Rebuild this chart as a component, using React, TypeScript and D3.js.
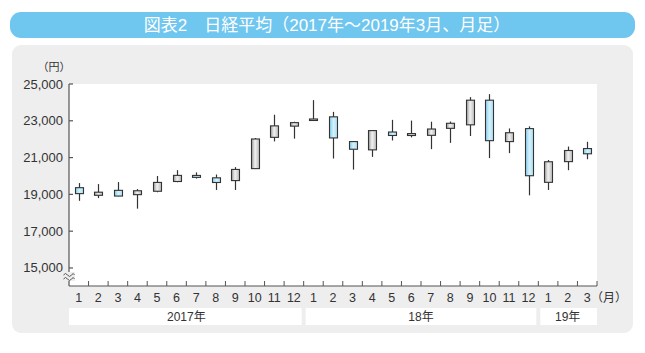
import React from "react";
import * as d3 from "d3";

const months = ["1","2","3","4","5","6","7","8","9","10","11","12","1","2","3","4","5","6","7","8","9","10","11","12","1","2","3"];
const opens  = [19364,18950,19220,18985,19170,19700,20030,19900,19750,20400,22100,22710,23050,23215,21870,21420,22390,22200,22210,22590,22780,24120,21870,22575,19655,20780,21490];
const highs  = [19615,19560,19668,19289,19999,20318,20195,20080,20481,22066,23330,22950,24124,23486,21880,22500,23050,23011,22950,22960,24286,24448,22583,22698,20870,21600,21860];
const lows   = [18650,18800,18900,18224,19115,19660,19860,19240,19240,20400,21880,22030,23000,20950,20347,21040,21930,22100,21460,21800,22172,20971,21243,18948,19241,20315,20911];
const closes = [19041,19119,18909,19197,19650,20033,19925,19646,20356,22011,22724,22900,23098,22068,21454,22467,22202,22305,22553,22865,24120,21920,22351,20014,20773,21385,21206];
const yearLabels = ["2017年", "18年", "19年"];
const yearCounts = [12, 12, 3];
const yTicks = [15000, 17000, 19000, 21000, 23000, 25000];

const FONT = "'Liberation Sans', 'Noto Sans CJK JP', sans-serif";

export default function App() {
  const left = 69, right = 597, top = 84, bottom = 286;
  const keys = months.map((_, i) => String(i));
  const x = d3.scaleBand().domain(keys).range([left, right]).padding(0);
  const y = d3.scaleLinear().domain([14020, 25000]).range([bottom, top]);
  const bw = 8;
  const fmt = d3.format(",");

  // year bands
  let acc = 0;
  const years = yearLabels.map((label, i) => {
    const start = acc;
    acc += yearCounts[i];
    const x0 = x(String(start))!;
    const x1 = x(String(acc - 1))! + x.bandwidth();
    return { label, x0, x1 };
  });

  return (
    <div style={{ position: "absolute", left: 0, top: 0 }}>
      <svg width={645} height={353} style={{ display: "block", background: "#fff" }}>
        <defs>
          <linearGradient id="grayBody" x1="0" x2="1" y1="0" y2="0">
            <stop offset="0" stopColor="#9c9c9c" />
            <stop offset="0.45" stopColor="#f2f2f2" />
            <stop offset="1" stopColor="#b8b8b8" />
          </linearGradient>
          <linearGradient id="blueBody" x1="0" x2="1" y1="0" y2="0">
            <stop offset="0" stopColor="#86cfee" />
            <stop offset="0.5" stopColor="#d4f1fb" />
            <stop offset="1" stopColor="#a9def4" />
          </linearGradient>
        </defs>

        {/* title */}
        <rect x={10} y={12} width={625} height={26} rx={11} fill="#6fc6ef" />
        <text x={327} y={31} textAnchor="middle" fill="#fff" fontSize={17} fontFamily={FONT}>
          図表2　日経平均（2017年～2019年3月、月足）
        </text>

        {/* panel */}
        <rect x={12} y={45} width={621} height={288} rx={9} fill="#eeeeee" />
        <rect x={left} y={top} width={right - left} height={bottom - top} fill="#fff" />

        {/* year bars */}
        {years.map((yr, i) => (
          <g key={yr.label}>
            <rect x={yr.x0 + (i === 0 ? 0 : 2)} y={308} width={yr.x1 - yr.x0 - (i === 0 ? 2 : 4) + (i === years.length - 1 ? 2 : 0)} height={17} fill="#fff" />
            <text x={(yr.x0 + yr.x1) / 2} y={321} textAnchor="middle" fontSize={12} fill="#333" fontFamily={FONT}>{yr.label}</text>
          </g>
        ))}

        {/* y axis */}
        <line x1={left} x2={left} y1={top} y2={bottom} stroke="#555" strokeWidth={1.2} />
        {yTicks.map(t => (
          <g key={t}>
            <line x1={left} x2={left + 4} y1={y(t)} y2={y(t)} stroke="#555" strokeWidth={1.2} />
            <text x={63} y={y(t) + 4.5} textAnchor="end" fontSize={13} fill="#333" fontFamily={FONT}>{fmt(t)}</text>
          </g>
        ))}
        <text x={54} y={71} textAnchor="middle" fontSize={11} fill="#333" fontFamily={FONT}>（円）</text>

        {/* axis break */}
        <rect x={63} y={272} width={12} height={9} fill="#eeeeee" />
        <path d="M63.5,275 q2,-3 4,0 t4,0 t3,0 M63.5,279 q2,-3 4,0 t4,0 t3,0" fill="none" stroke="#555" strokeWidth={1} />

        {/* x axis */}
        <line x1={left} x2={right} y1={bottom} y2={bottom} stroke="#555" strokeWidth={1.2} />
        {keys.map(k => (
          <line key={"t" + k} x1={x(k)! + x.bandwidth()} x2={x(k)! + x.bandwidth()} y1={bottom} y2={bottom - 5} stroke="#555" strokeWidth={1} />
        ))}
        {months.map((m, i) => (
          <text key={"m" + i} x={x(String(i))! + x.bandwidth() / 2} y={302} textAnchor="middle" fontSize={12.5} fill="#333" fontFamily={FONT}>{m}</text>
        ))}
        <text x={609} y={302} textAnchor="middle" fontSize={12} fill="#333" fontFamily={FONT}>（月）</text>

        {/* candles */}
        {keys.map((k, i) => {
          const cx = Math.round(x(k)! + x.bandwidth() / 2) + 0.5;
          const o = opens[i], c = closes[i];
          const up = c >= o;
          const yTop = y(Math.max(o, c));
          const yBot = y(Math.min(o, c));
          const h = Math.max(yBot - yTop, 1.5);
          return (
            <g key={"c" + k}>
              <line x1={cx} x2={cx} y1={y(highs[i])} y2={y(lows[i])} stroke="#333" strokeWidth={1.2} />
              <rect x={cx - bw / 2} y={yTop} width={bw} height={h}
                fill={up ? "url(#grayBody)" : "url(#blueBody)"} stroke="#333" strokeWidth={1.1} />
            </g>
          );
        })}
      </svg>
    </div>
  );
}
